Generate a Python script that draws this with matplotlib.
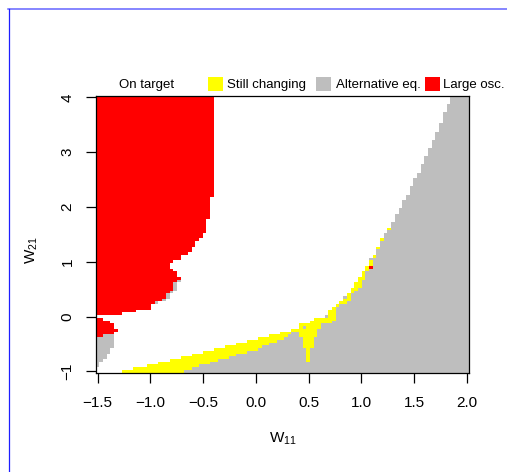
import numpy as np
import matplotlib
matplotlib.use('Agg')
import matplotlib.pyplot as plt
from matplotlib.colors import ListedColormap, BoundaryNorm
from matplotlib.patches import Rectangle
from matplotlib.lines import Line2D

plt.rcParams['font.family'] = 'Liberation Sans'
plt.rcParams['mathtext.fontset'] = 'custom'
plt.rcParams['mathtext.rm'] = 'Liberation Sans'
plt.rcParams['mathtext.it'] = 'Liberation Sans:italic'

# parameter grid (cell centres)
w11 = np.linspace(-1.5, 2.0, 101)
w21 = np.linspace(-1.0, 4.0, 101)

status_names = ['On target', 'Still changing', 'Alternative eq.', 'Large osc.']
status_colors = ['white', 'yellow', '#BEBEBE', 'red']
ON, STILL, ALT, OSC = 0, 1, 2, 3

x_ticks = [-1.5, -1.0, -0.5, 0.0, 0.5, 1.0, 1.5, 2.0]
x_tick_labels = ['\u22121.5', '\u22121.0', '\u22120.5', '0.0', '0.5', '1.0', '1.5', '2.0']
y_ticks = [-1, 0, 1, 2, 3, 4]
y_tick_labels = ['\u22121', '0', '1', '2', '3', '4']

# alternative equilibrium: first W11 of the region, for W21 >= row limit
upper_w21_min = [3.9, 3.75, 3.55, 3.4, 3.25, 3.1, 2.95, 2.8, 2.65, 2.55,
                 2.4, 2.25, 2.15, 2.0, 1.9, 1.75, 1.65]
upper_alt_start = [1.84, 1.80, 1.764, 1.729, 1.698, 1.66, 1.625, 1.594, 1.556, 1.525,
                   1.49, 1.455, 1.417, 1.386, 1.348, 1.31, 1.28]

# lower band, one entry per row from W21 = -1.0 to 1.6
band_still_start = [-1.273, -1.172, -1.03, -0.926, -0.819, -0.721, -0.614, -0.51, -0.393, -0.289,
                    -0.185, -0.084, 0.02, 0.127, 0.231, 0.335, 0.404, 0.404, 0.51, 0.56,
                    0.648, 0.688, 0.705, 0.72, 0.755, 0.79, 0.83, 0.83, 0.865, 0.9,
                    0.9, 0.93, 0.935, 0.965, 0.965, 1.0, 1.0, 1.035, 1.035, 1.07,
                    1.07, 1.07, 1.105, 1.14, 1.14, 1.14, 1.175, 1.175, 1.175, 1.21,
                    1.21, 1.245, 1.245]
band_alt_start = [-0.677, -0.62, -0.526, -0.447, -0.368, -0.273, -0.178, -0.084, 0.011, 0.073,
                  0.137, 0.2, 0.262, 0.30, 0.326, 0.404, 0.437, 0.61, 0.72, 0.752,
                  0.752, 0.752, 0.76, 0.76, 0.79, 0.86, 0.9, 0.9, 0.9, 0.93,
                  0.965, 1.0, 1.0, 1.0, 1.035, 1.035, 1.035, 1.07, 1.07, 1.105,
                  1.105, 1.07, 1.14, 1.14, 1.14, 1.175, 1.175, 1.175, 1.21, 1.21,
                  1.21, 1.245, 1.28]

# still-changing pocket around W11 = 0.5 (x0, x1, y0, y1)
pocket_x0 = [0.47, 0.40, 0.44, 0.48]
pocket_x1 = [0.62, 0.59, 0.56, 0.51]
pocket_y0 = [-0.22, -0.37, -0.57, -0.82]
pocket_y1 = [-0.12, -0.23, -0.38, -0.57]

# isolated cells
single_w11 = [0.665, 0.845, 1.09]
single_w21 = [0.0, 0.35, 0.9]
single_status = [ALT, ALT, OSC]

# large oscillation block, upper left: right edge for W21 >= row limit
osc_w21_min = [2.2, 1.8, 1.55, 1.45, 1.4, 1.3, 1.2, 1.15, 1.05, 1.0, 0.9, 0.85,
               0.75, 0.7, 0.65, 0.5, 0.45, 0.35, 0.3, 0.25, 0.15, 0.1, 0.05]
osc_right = [-0.393, -0.438, -0.475, -0.516, -0.538, -0.576, -0.614, -0.651, -0.715, -0.784,
             -0.822, -0.784, -0.746, -0.715, -0.746, -0.784, -0.822, -0.86, -0.897, -0.948,
             -0.99, -1.131, -1.273]
osc_alt_right = [None, None, None, None, None, None, None, None, None, None,
                 None, None, None, None, -0.715, -0.746, -0.784, -0.822, -0.86, -0.916,
                 None, None, None]

# small patch at the left edge below W21 = 0
patch_w21 = [-0.05, -0.1, -0.15, -0.2, -0.25, -0.3, -0.35, -0.4, -0.45, -0.5,
             -0.55, -0.6, -0.65, -0.7, -0.75, -0.8, -0.85, -0.9]
patch_osc_right = [-1.44, -1.377, -1.346, -1.346, -1.30, -1.346, -1.44, None, None, None,
                   None, None, None, None, None, None, None, None]
patch_alt_right = [None, None, None, None, None, None, -1.34, -1.339, -1.339, -1.339,
                   -1.339, -1.377, -1.377, -1.408, -1.408, -1.446, -1.478, -1.48]

eps = 1e-6
grid = np.full((len(w21), len(w11)), ON)
for j, y in enumerate(w21):
    row = grid[j]
    if j < len(band_alt_start):
        row[w11 >= band_still_start[j] - eps] = STILL
        row[w11 >= band_alt_start[j] - eps] = ALT
    else:
        k = next(i for i, m in enumerate(upper_w21_min) if y >= m - eps)
        row[w11 >= upper_alt_start[k] - eps] = ALT

for x0, x1, y0, y1 in zip(pocket_x0, pocket_x1, pocket_y0, pocket_y1):
    rows = (w21 >= y0) & (w21 < y1)
    cols = (w11 >= x0) & (w11 < x1)
    grid[np.ix_(rows, cols)] = STILL

for x, y, s in zip(single_w11, single_w21, single_status):
    grid[np.argmin(abs(w21 - y)), np.argmin(abs(w11 - x))] = s

for j, y in enumerate(w21):
    if y < 0.05 - eps:
        continue
    k = next(i for i, m in enumerate(osc_w21_min) if y >= m - eps)
    if osc_alt_right[k] is not None:
        grid[j, w11 < osc_alt_right[k]] = ALT
    grid[j, w11 < osc_right[k]] = OSC

for y, r_osc, r_alt in zip(patch_w21, patch_osc_right, patch_alt_right):
    j = np.argmin(abs(w21 - y))
    if r_alt is not None:
        grid[j, w11 < r_alt] = ALT
    if r_osc is not None:
        grid[j, w11 < r_osc] = OSC

W, H = 507, 472
fig = plt.figure(figsize=(W / 100, H / 100), dpi=100)


def fx(px):
    return px / W


def fy(py):
    return 1 - py / H


ax = fig.add_axes([fx(95.7), fy(372.7), fx(468.7) - fx(95.7), fy(96) - fy(372.7)])
cmap = ListedColormap(status_colors)
norm = BoundaryNorm([-0.5, 0.5, 1.5, 2.5, 3.5], cmap.N)
ax.pcolormesh(w11, w21, grid, cmap=cmap, norm=norm, shading='nearest',
              antialiased=False, edgecolors='none')
ax.set_xlim(-1.5175, 2.0175)
ax.set_ylim(-1.025, 4.025)

ax.set_xticks(x_ticks)
ax.set_xticklabels(x_tick_labels)
ax.set_yticks(y_ticks)
ax.set_yticklabels(y_tick_labels, rotation=90, va='center')
ax.tick_params(direction='out', length=7.2, width=0.9, labelsize=11, pad=8)
ax.tick_params(axis='x', pad=9.5)
for sp in ax.spines.values():
    sp.set_linewidth(0.9)

fig.text(fx(269), fy(443), r'$\mathrm{W}_{11}$', fontsize=11, ha='left', va='baseline')
fig.text(fx(32), fy(250), r'$\mathrm{W}_{21}$', fontsize=11, ha='center', va='center',
         rotation=90)

# legend row above the panel
text_x = [119, 227.3, 335.7, 443.3]
box_x = [None, 208, 316, 425]
for name, col, tx, bx in zip(status_names, status_colors, text_x, box_x):
    fig.text(fx(tx), fy(88), name, fontsize=9.5, ha='left', va='baseline')
    if bx is not None:
        fig.add_artist(Rectangle((fx(bx), fy(90.7)), 15 / W, 14 / H,
                                 transform=fig.transFigure, facecolor=col,
                                 edgecolor='none'))

# blue frame
fig.add_artist(Line2D([fx(8), 1], [fy(9), fy(9)], transform=fig.transFigure,
                      color='#6464ff', linewidth=1.1))
fig.add_artist(Line2D([fx(8.5), fx(8.5)], [fy(9), 0], transform=fig.transFigure,
                      color='#1e1eff', linewidth=0.9))

fig.savefig('out.png', dpi=100)
